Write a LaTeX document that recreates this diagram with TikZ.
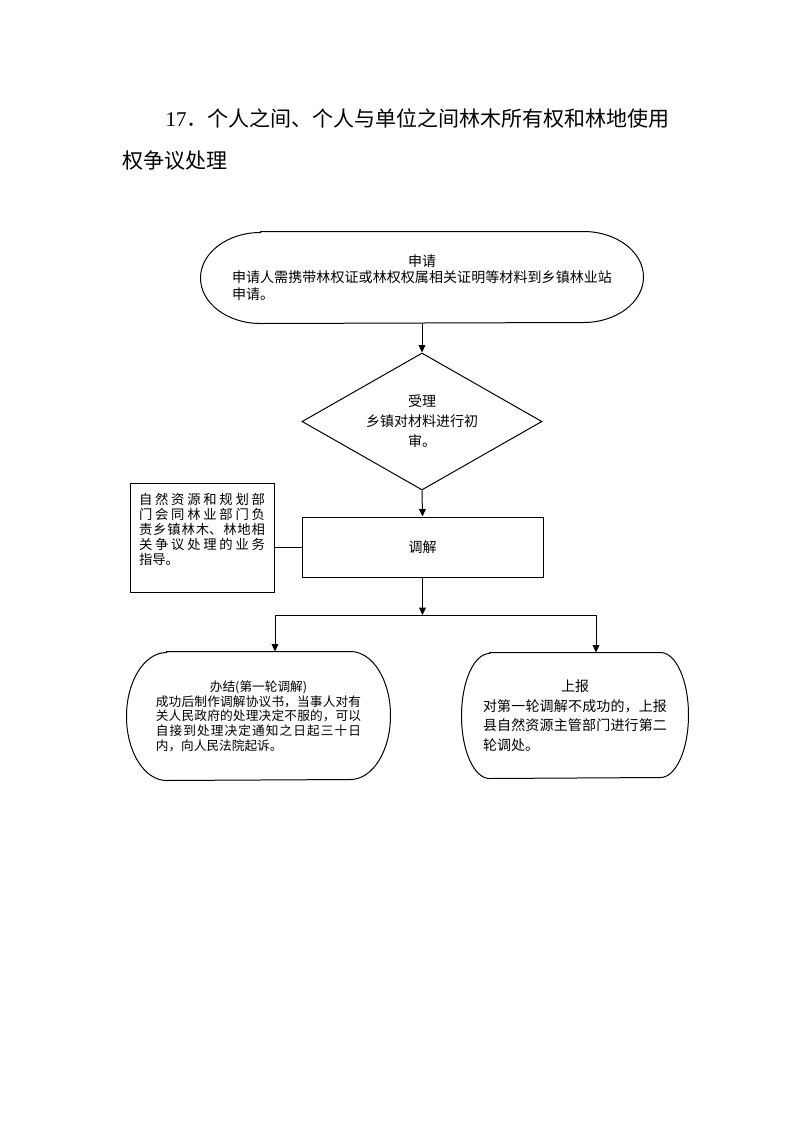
\documentclass[tikz,border=0pt]{standalone}
\usepackage{fontspec}
\setmainfont{Liberation Serif}
\newfontfamily\cjk{Noto Sans CJK SC}
\usetikzlibrary{arrows.meta,shapes.geometric}
\XeTeXlinebreaklocale "zh"
\XeTeXlinebreakskip=0pt plus 1pt minus 0.5pt
\newcommand{\zhongduan}[3]{%
	\draw ([xshift=#2]#1.north west) -- ([xshift=-#2]#1.north east)
		arc[start angle=90, end angle=-90, x radius=#2, y radius=#3]
		-- ([xshift=#2]#1.south west)
		arc[start angle=270, end angle=90, x radius=#2, y radius=#3] -- cycle;
}

\begin{document}
\begin{tikzpicture}[x=0.75pt, y=-0.75pt, line width=0.75pt, >={Triangle[length=5.5pt,width=5pt]},
	every node/.style={font=\cjk\fontsize{10.5pt}{12.4pt}\selectfont, inner sep=0pt},
	biaoti/.style={anchor=base west, font=\cjk\fontsize{15.75pt}{20pt}\selectfont},
	wenzi/.style={text width=#1, align=justify}]
	\path[use as bounding box] (0,0) rectangle (793,1122);
	\node[biaoti] (biaoti1) at (165,126) {{\normalfont 17}．个人之间、个人与单位之间林木所有权和林地使用};
	\node[biaoti] (biaoti2) at (122,168) {权争议处理};

	\node[wenzi=285pt, minimum width=331.5pt, minimum height=68.25pt] (shen) at (422,277.5)
		{\hfill 申请\hfill\null\\ 申请人需携带林权证或林权权属相关证明等材料到乡镇林业站\linebreak 申请。};
	\node[diamond, draw, shape aspect=1.75, minimum width=180pt, minimum height=102.75pt, align=center,
		font=\cjk\fontsize{10.5pt}{15pt}\selectfont] (shouli) at (422,421.5) {受理\\乡镇对材料进行初\\审。};
	\node[draw, minimum width=180.75pt, minimum height=45pt] (tiaojie) at (422.5,547) {调解};
	\node[draw, anchor=north, wenzi=94.5pt, inner xsep=6.75pt, inner ysep=7.5pt, text depth=58pt,
		font=\cjk\fontsize{10pt}{11.25pt}\selectfont] (zhidao) at (202,483)
		{自然资源和规划部\linebreak 门会同林业部门负\linebreak 责乡镇林木、林地相\linebreak 关争议处理的业务\linebreak 指导。};
	\node[wenzi=154pt, minimum width=197.25pt, minimum height=96pt,
		font=\cjk\fontsize{9.5pt}{11pt}\selectfont] (ban) at (258.5,716)
		{\hfill 办结(第一轮调解)\hfill\null\\ 成功后制作调解协议书，当事人对有\linebreak 关人民政府的处理决定不服的，可以\linebreak 自接到处理决定通知之日起三十日\linebreak 内，向人民法院起诉。};
	\node[wenzi=138pt, minimum width=169.5pt, minimum height=93.75pt,
		font=\cjk\fontsize{10.5pt}{14.6pt}\selectfont] (shang) at (575,715.5)
		{\hfill 上报\hfill\null\\ 对第一轮调解不成功的，上报\linebreak 县自然资源主管部门进行第二\linebreak 轮调处。};

	\zhongduan{shen}{45pt}{34.125pt}
	\zhongduan{ban}{30pt}{48pt}
	\zhongduan{shang}{21pt}{46.875pt}

	\draw[->] (shen.south) -- (shouli.north);
	\draw[->] (shouli.south) -- (tiaojie.north);
	\draw (zhidao.east |- tiaojie.west) -- (tiaojie.west);
	\coordinate (fencha) at (422.5,615);
	\coordinate (zuo) at (275,615);
	\coordinate (you) at (596,615);
	\draw[->] (tiaojie.south) -- (fencha);
	\draw (zuo) -- (you);
	\foreach \a/\b in {zuo/ban, you/shang}
		\draw[->] (\a) -- (\a |- \b.north);
\end{tikzpicture}
\end{document}
